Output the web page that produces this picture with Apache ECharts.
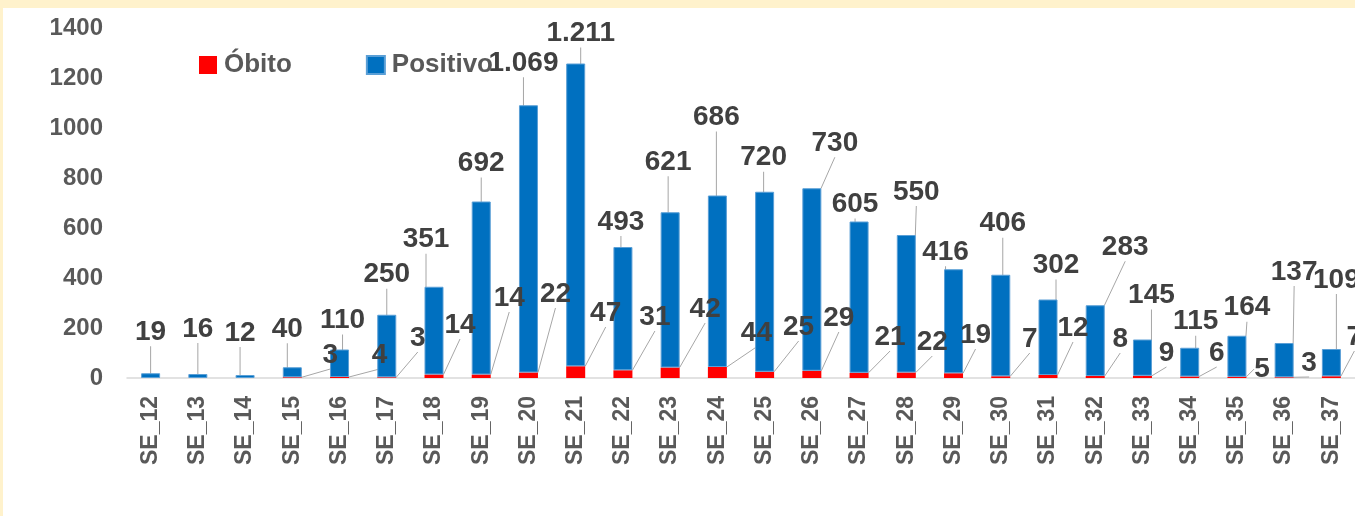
<!DOCTYPE html>
<html>
<head>
	<meta charset="UTF-8">
	<title>Óbito / Positivo por SE</title>
	<style>
		html, body {margin: 0; padding: 0; background: #fff2cc;}
		#chart {position: absolute; left: 3px; top: 8px; width: 1352px; height: 508px; background: #fff;}
	</style>
</head>
<body>
<div id="chart"></div>
<script src="https://cdn.jsdelivr.net/npm/echarts@6/dist/echarts.min.js"></script>
<script type="text/javascript">
    // semanas epidemiológicas
    var semanas = ['SE_12','SE_13','SE_14','SE_15','SE_16','SE_17','SE_18','SE_19','SE_20','SE_21','SE_22','SE_23','SE_24',
        'SE_25','SE_26','SE_27','SE_28','SE_29','SE_30','SE_31','SE_32','SE_33','SE_34','SE_35','SE_36','SE_37'];
    var obito = [null, null, null, 3, 4, 3, 14, 14, 22, 47, 31, 42, 44, 25, 29, 21, 22, 19, 7, 12, 8, 9, 6, 5, 3, 7];
    var positivo = [19, 16, 12, 40, 110, 250, 351, 692, 1069, 1211, 493, 621, 686, 720, 730, 605, 550, 416, 406, 302, 283, 145, 115, 164, 137, 109];
    var yTicks = [0, 200, 400, 600, 800, 1000, 1200, 1400];

    // deslocamento dos rótulos (como no Excel, com linha de chamada)
    var posShift = [[0,-41],[0,-45],[-5,-42],[-5,-38],[3,-29],[0,-40],[-8,-47],[0,-38],[-5,-42],[5,-30],[-2,-25],[-2,-50],[-1,-78],
        [-1,-34],[23,-45],[-4,-17],[10,-43],[-8,-17],[2,-51],[8,-34],[30,-58],[9,-44],[6,-26],[10,-28],[10,-71],[5,-69]];
    var obShift = [[0,0],[0,0],[0,0],[38,-23],[40,-23],[31,-40],[26,-53],[28,-80],[27,-84],[30,-65],[32,-61],[35,-69],[39,-45],
        [34,-51],[27,-60],[31,-41],[26,-36],[22,-43],[29,-39],[25,-50],[25,-39],[24,-25],[27,-25],[25,-9],[25,-15],[23,-41]];

    function fmt(v) {
        return String(v).replace(/\B(?=(\d{3})+(?!\d))/g, '.');
    }

    var FONT = '"Liberation Sans", Arial, sans-serif';
    var chart = echarts.init(document.getElementById('chart'));

    chart.setOption({
        animation: false,
        textStyle: {fontFamily: FONT},
        grid: {left: 124, right: 0, top: 20, bottom: 138, containLabel: false},
        legend: {
            left: 191, top: 39,
            itemWidth: 18, itemHeight: 18, itemGap: 74,
            icon: 'rect',
            textStyle: {fontSize: 26, fontWeight: 'bold', color: '#595959', fontFamily: FONT, padding: [0, 0, 0, 2]},
            data: ['Óbito', 'Positivo']
        },
        xAxis: {
            type: 'category',
            data: semanas,
            axisTick: {show: false},
            axisLine: {lineStyle: {color: '#d9d9d9', width: 1.5}},
            axisLabel: {rotate: 90, margin: 18, fontSize: 23, fontWeight: 'bold', color: '#595959', fontFamily: FONT}
        },
        yAxis: {
            type: 'value',
            min: yTicks[0], max: yTicks[yTicks.length - 1], interval: 200,
            splitLine: {show: false},
            axisLine: {show: false},
            axisTick: {show: false},
            axisLabel: {
                margin: 24, fontSize: 24, fontWeight: 'bold', color: '#595959', fontFamily: FONT,
                formatter: function (v) { return String(v); }
            }
        },
        series: [
            {
                name: 'Óbito',
                type: 'bar',
                stack: 'total',
                barWidth: 19,
                data: obito,
                itemStyle: {color: '#ff0000'},
                label: {
                    show: true, position: 'right',
                    fontSize: 28, fontWeight: 'bold', color: '#404040', fontFamily: FONT,
                    formatter: function (p) { return fmt(p.value); }
                },
                labelLine: {show: true, lineStyle: {color: '#a6a6a6', width: 1}},
                labelLayout: function (p) {
                    var s = obShift[p.dataIndex];
                    return {
                        x: p.rect.x + p.rect.width / 2 + s[0],
                        y: p.rect.y + p.rect.height + s[1],
                        align: 'center', verticalAlign: 'middle'
                    };
                }
            },
            {
                name: 'Positivo',
                type: 'bar',
                stack: 'total',
                barWidth: 19,
                data: positivo,
                itemStyle: {color: '#0070c0', borderColor: '#5a9fd6', borderWidth: 1},
                label: {
                    show: true, position: 'top',
                    fontSize: 28, fontWeight: 'bold', color: '#404040', fontFamily: FONT,
                    formatter: function (p) { return fmt(p.value); }
                },
                labelLine: {show: true, lineStyle: {color: '#a6a6a6', width: 1}},
                labelLayout: function (p) {
                    var s = posShift[p.dataIndex];
                    return {
                        x: p.rect.x + p.rect.width / 2 + s[0],
                        y: p.rect.y + s[1],
                        align: 'center', verticalAlign: 'middle'
                    };
                }
            }
        ]
    });
</script>
</body>
</html>
